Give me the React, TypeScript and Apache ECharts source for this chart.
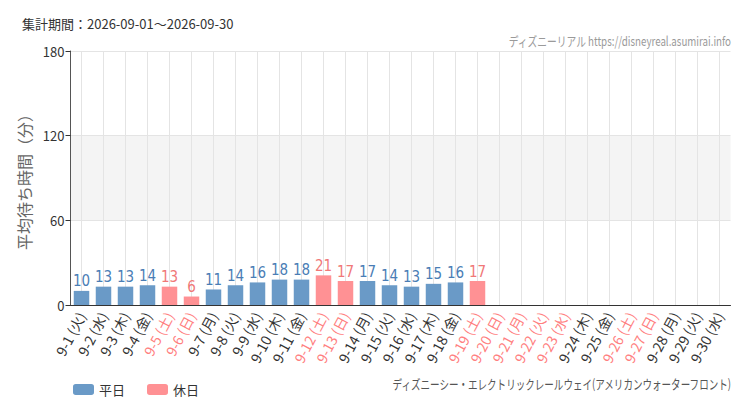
import React, { useEffect, useRef } from "react";
import * as echarts from "echarts";

const days = [
  "9-1 (火)", "9-2 (水)", "9-3 (木)", "9-4 (金)", "9-5 (土)", "9-6 (日)",
  "9-7 (月)", "9-8 (火)", "9-9 (水)", "9-10 (木)", "9-11 (金)", "9-12 (土)",
  "9-13 (日)", "9-14 (月)", "9-15 (火)", "9-16 (水)", "9-17 (木)", "9-18 (金)",
  "9-19 (土)", "9-20 (日)", "9-21 (月)", "9-22 (火)", "9-23 (水)", "9-24 (木)",
  "9-25 (金)", "9-26 (土)", "9-27 (日)", "9-28 (月)", "9-29 (火)", "9-30 (水)",
];

// 1 = 休日
const holiday = [
  0, 0, 0, 0, 1, 1, 0, 0, 0, 0, 0, 1, 1, 0, 0, 0, 0, 0,
  1, 1, 1, 1, 1, 0, 0, 1, 1, 0, 0, 0,
];

const waits: (number | null)[] = [
  10, 13, 13, 14, 13, 6, 11, 14, 16, 18, 18, 21, 17, 17, 14, 13, 15, 16, 17,
  null, null, null, null, null, null, null, null, null, null, null,
];

const yTicks = [0, 60, 120, 180];

const BLUE = "#6a9ac7";
const PINK = "#ff9194";
const NARROW = "'DejaVu Sans Condensed', 'Liberation Sans Narrow', 'Roboto', sans-serif";
const JP = "'Noto Sans CJK JP', 'Noto Sans', sans-serif";

const App: React.FC = () => {
  const chartRef = useRef<HTMLDivElement>(null);

  useEffect(() => {
    document.body.style.margin = "0";
    if (!chartRef.current) return;
    const chart = echarts.init(chartRef.current, null, { renderer: "svg" });

    const weekday = waits.map((v, i) => (holiday[i] ? null : v));
    const holidayData = waits.map((v, i) => (holiday[i] ? v : null));

    const barLabel = (color: string) => ({
      show: true,
      position: "top",
      distance: 2,
      color,
      fontSize: 15,
      fontWeight: 500,
      fontFamily: NARROW,
    });

    const option = {
      animation: false,
      backgroundColor: "#fff",
      textStyle: { fontFamily: JP },
      grid: { left: 70.5, right: 19.5, top: 51, bottom: 105 },
      legend: {
        left: 68,
        top: 378,
        itemWidth: 21,
        itemHeight: 11,
        itemGap: 22,
        textStyle: { fontSize: 13, color: "#333", fontFamily: JP },
        data: ["平日", "休日"],
      },
      graphic: [
        {
          type: "text",
          left: 22,
          top: 17,
          style: { text: "集計期間：2026-09-01～2026-09-30", fontSize: 13, fill: "#333", fontFamily: JP },
        },
        {
          type: "text",
          x: 731,
          y: 40,
          scaleX: 0.75,
          style: {
            text: "ディズニーリアル https://disneyreal.asumirai.info",
            fontSize: 13,
            fill: "#9a9a9a",
            fontFamily: JP,
            align: "right",
            verticalAlign: "middle",
          },
        },
        {
          type: "text",
          x: 731,
          y: 383,
          scaleX: 0.735,
          style: {
            text: "ディズニーシー・エレクトリックレールウェイ(アメリカンウォーターフロント)",
            fontSize: 13,
            fill: "#555",
            fontFamily: JP,
            align: "right",
            verticalAlign: "middle",
          },
        },
      ],
      xAxis: {
        type: "category",
        data: days,
        axisLine: { lineStyle: { color: "#333" } },
        axisTick: { alignWithLabel: true, length: 5, lineStyle: { color: "#333" } },
        splitLine: { show: true, alignWithLabel: true, lineStyle: { color: "#e4e4e4" } },
        axisLabel: {
          interval: 0,
          rotate: 62,
          fontSize: 14,
          margin: 8,
          fontFamily: JP,
          color: (_v: string, i: number) => (holiday[i] ? "#ff8080" : "#333"),
        },
      },
      yAxis: {
        type: "value",
        min: yTicks[0],
        max: yTicks[yTicks.length - 1],
        interval: 60,
        name: "平均待ち時間（分）",
        nameLocation: "middle",
        nameGap: 36,
        nameTextStyle: { fontSize: 16, color: "#666", fontFamily: JP },
        axisLine: { show: true, lineStyle: { color: "#555" } },
        axisTick: { show: true, length: 5, lineStyle: { color: "#333" } },
        axisLabel: { fontSize: 13, color: "#333", margin: 6 },
        splitLine: { lineStyle: { color: "#e4e4e4" } },
        splitArea: { show: true, areaStyle: { color: ["rgba(255,255,255,0)", "#f4f4f4"] } },
      },
      series: [
        {
          name: "平日",
          type: "bar",
          data: weekday,
          barWidth: 15.5,
          barGap: "-100%",
          itemStyle: { color: BLUE },
          label: barLabel("#4a7db5"),
        },
        {
          name: "休日",
          type: "bar",
          data: holidayData,
          barWidth: 15.5,
          barGap: "-100%",
          itemStyle: { color: PINK },
          label: barLabel("#f07878"),
        },
      ],
    };

    chart.setOption(option);
    return () => {
      chart.dispose();
    };
  }, []);

  return <div ref={chartRef} style={{ width: "750px", height: "410px" }} />;
};

export default App;
